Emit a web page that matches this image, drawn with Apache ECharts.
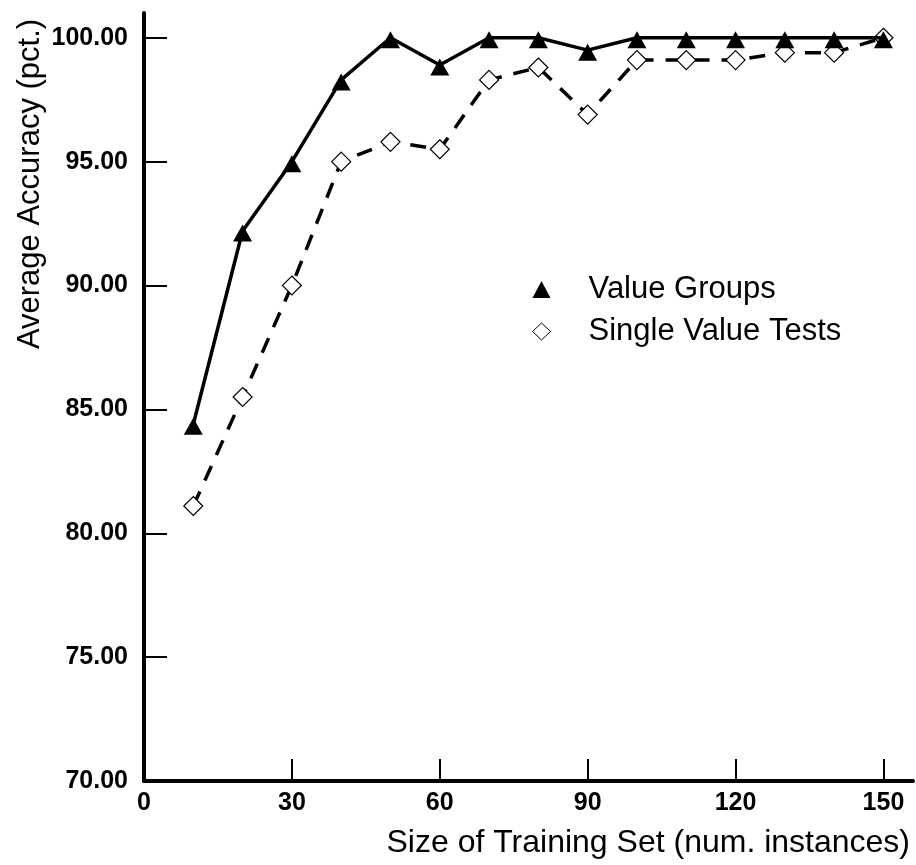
<!DOCTYPE html>
<html>
<head>
<meta charset="utf-8">
<script src="https://cdn.jsdelivr.net/npm/echarts@6/dist/echarts.min.js"></script>
<style>
  html, body { margin: 0; padding: 0; background: #fff; }
  #chart { width: 916px; height: 865px; }
</style>
</head>
<body>
<div id="chart"></div>
<script>
// training set sizes
var sizes = [10, 20, 30, 40, 50, 60, 70, 80, 90, 100, 110, 120, 130, 140, 150];
// accuracy per size
var valueGroups = [84.4, 92.2, 95.0, 98.3, 100, 98.9, 100, 100, 99.5, 100, 100, 100, 100, 100, 100];
var singleValueTests = [81.1, 85.5, 90.0, 95.0, 95.8, 95.5, 98.3, 98.8, 96.9, 99.1, 99.1, 99.1, 99.4, 99.4, 100];
var xTicks = [0, 30, 60, 90, 120, 150];
var yTicks = [70, 75, 80, 85, 90, 95, 100];

var font = '"Liberation Sans", Arial, Helvetica, sans-serif';

function pairs(xs, ys) {
  return xs.map(function (x, i) { return [x, ys[i]]; });
}

var chart = echarts.init(document.getElementById('chart'));

var option = {
  backgroundColor: '#fff',
  animation: false,
  textStyle: { fontFamily: font, color: '#000' },
  grid: { left: 144, top: 13, right: 3, bottom: 84 },
  legend: {
    orient: 'vertical',
    left: 527,
    top: 269,
    itemWidth: 18,
    itemHeight: 17,
    itemGap: 11,
    textStyle: { fontSize: 31, fontFamily: font, color: '#000', padding: [0, 0, 0, 33] },
    data: [
      { name: 'Value Groups', icon: 'triangle', itemStyle: { color: '#000', borderWidth: 0 } },
      { name: 'Single Value Tests', icon: 'diamond', itemStyle: { color: '#fff', borderColor: '#000', borderWidth: 1 } }
    ]
  },
  graphic: [
    {
      type: 'text',
      x: 30, y: 184,
      rotation: Math.PI / 2,
      style: {
        text: 'Average Accuracy (pct.)',
        fontSize: 31, fontFamily: font, fill: '#000',
        align: 'center', verticalAlign: 'middle'
      }
    },
    {
      type: 'text',
      x: 910, y: 843,
      style: {
        text: 'Size of Training Set (num. instances)',
        fontSize: 32, fontFamily: font, fill: '#000',
        align: 'right', verticalAlign: 'middle'
      }
    }
  ],
  xAxis: {
    type: 'value',
    min: 0,
    max: 156,
    interval: 30,
    splitLine: { show: false },
    axisLine: { lineStyle: { color: '#000', width: 4 } },
    axisTick: { inside: true, length: 22, customValues: xTicks, lineStyle: { color: '#000', width: 2 } },
    axisLabel: { customValues: xTicks, fontSize: 25, fontWeight: 'bold', color: '#000', margin: 10, fontFamily: font }
  },
  yAxis: {
    type: 'value',
    min: 70,
    max: 101,
    interval: 5,
    splitLine: { show: false },
    axisLine: { onZero: false, lineStyle: { color: '#000', width: 4 } },
    axisTick: { inside: true, length: 23, customValues: yTicks, lineStyle: { color: '#000', width: 2 } },
    axisLabel: {
      customValues: yTicks,
      fontSize: 25, fontWeight: 'bold', color: '#000', margin: 16, fontFamily: font,
      formatter: function (v) { return v.toFixed(2); }
    }
  },
  series: [
    {
      name: 'Single Value Tests',
      type: 'line',
      data: pairs(sizes, singleValueTests),
      symbol: 'diamond',
      symbolSize: 19,
      lineStyle: { color: '#000', width: 3.5, type: [16, 12] },
      itemStyle: { color: '#fff', borderColor: '#000', borderWidth: 1.2 },
      z: 2
    },
    {
      name: 'Value Groups',
      type: 'line',
      data: pairs(sizes, valueGroups),
      symbol: 'triangle',
      symbolSize: [19, 17],
      symbolOffset: [0, 2],
      lineStyle: { color: '#000', width: 3.5 },
      itemStyle: { color: '#000', borderWidth: 0 },
      z: 3
    }
  ]
};

chart.setOption(option);
</script>
</body>
</html>
